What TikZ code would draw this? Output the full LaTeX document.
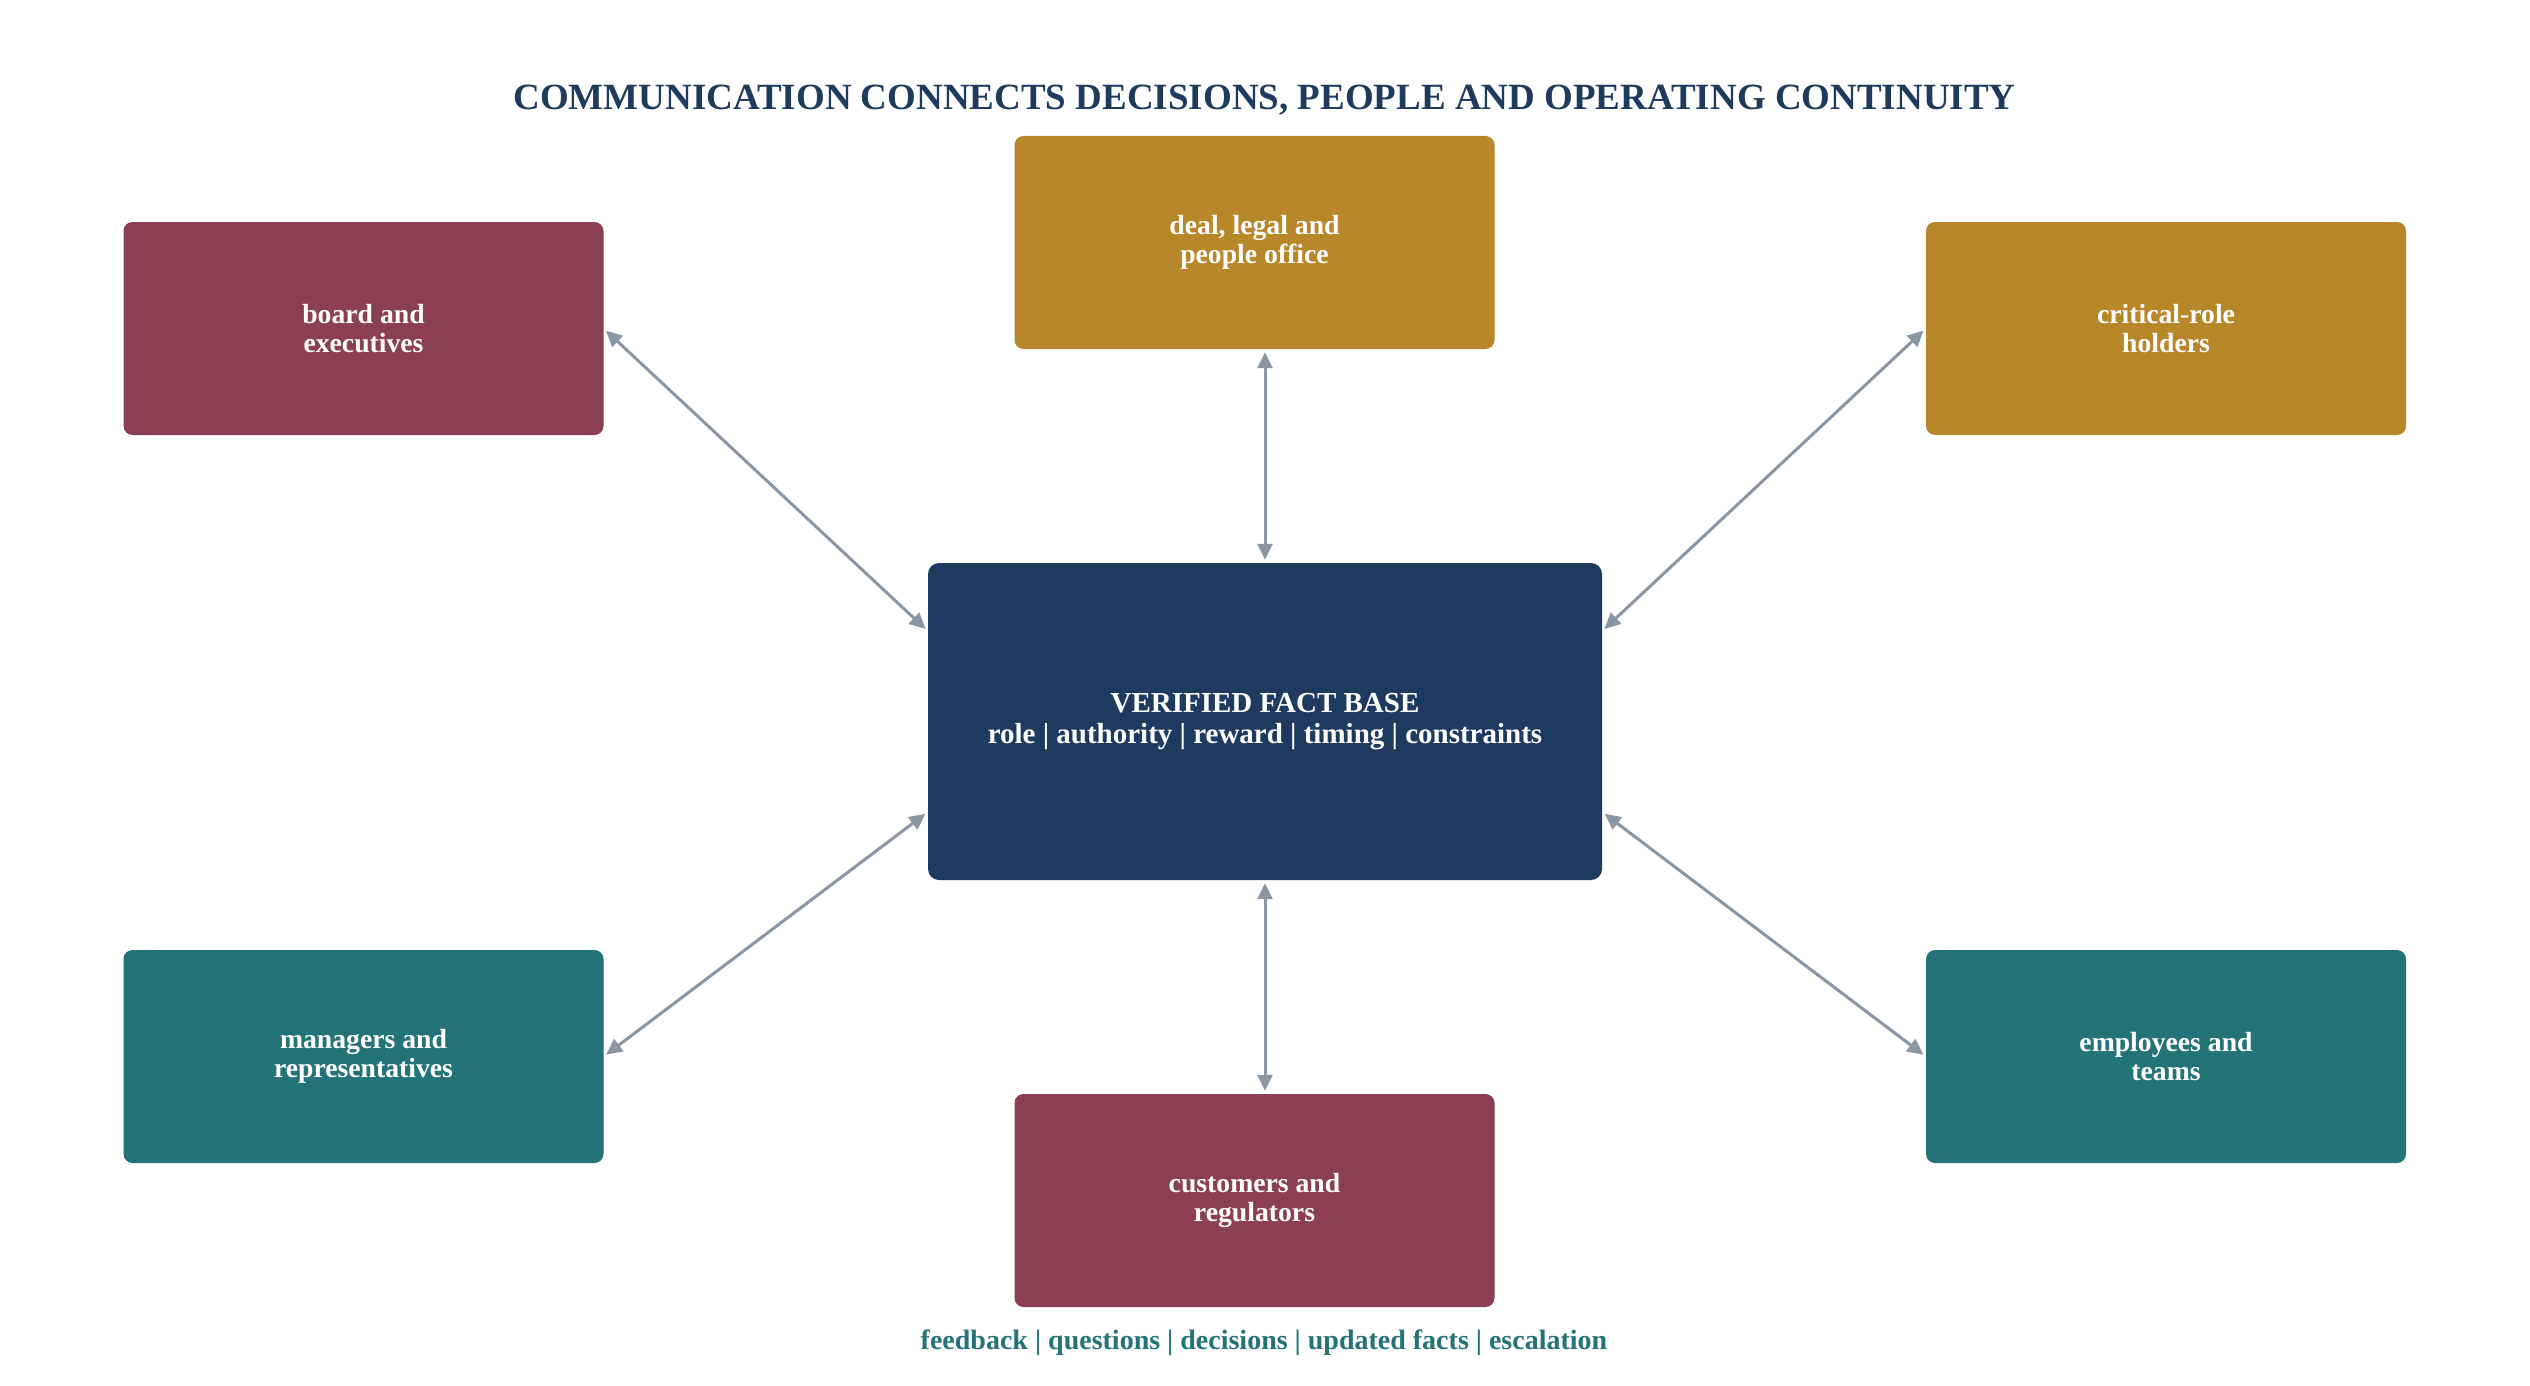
\documentclass[tikz,border=0pt]{standalone}
\usepackage{fontspec}
\setmainfont{Liberation Serif}
\usetikzlibrary{arrows.meta,calc}
\definecolor{navy}{HTML}{1F3A5F}
\definecolor{maroon}{HTML}{8B3F52}
\definecolor{gold}{HTML}{B8872A}
\definecolor{teal}{HTML}{237378}
\definecolor{arrowgray}{HTML}{8A96A3}
\begin{document}
\begin{tikzpicture}[x=1pt,y=-1pt,
  box/.style={rectangle,rounded corners=9pt,minimum width=480pt,minimum height=213pt,inner sep=0pt,
    text=white,align=center,font=\fontsize{27.7}{29}\selectfont\bfseries},
  hub/.style={rectangle,rounded corners=11pt,minimum width=674pt,minimum height=317pt,inner sep=0pt,
    fill=navy,text=white,align=center,font=\fontsize{29}{30.5}\selectfont\bfseries},
  link/.style={draw=arrowgray,line width=3pt,{Triangle[length=16pt,width=15pt]}-{Triangle[length=16pt,width=15pt]},
    shorten <=3pt,shorten >=3pt}
]
\useasboundingbox[fill=white] (0,0) rectangle (2530,1386);
\node[text=navy,font=\fontsize{37}{42}\selectfont\bfseries] (title) at (1264.5,100) {COMMUNICATION CONNECTS DECISIONS, PEOPLE AND OPERATING CONTINUITY};
\node[box,fill=maroon] (board) at (363.5,328.5) {board and\\executives};
\node[box,fill=gold] (deal) at (1254.5,242.5) {deal, legal and\\people office};
\node[box,fill=gold] (crit) at (2166,328.5) {critical-role\\holders};
\node[box,fill=teal] (mgr) at (363.5,1056.5) {managers and\\representatives};
\node[box,fill=maroon] (cust) at (1254.5,1200.5) {customers and\\regulators};
\node[box,fill=teal] (emp) at (2166,1056.5) {employees and\\teams};
\node[hub] (c) at (1265,721.5) {VERIFIED FACT BASE\\role | authority | reward | timing | constraints};
\node[text=teal,font=\fontsize{28}{30}\selectfont\bfseries] (foot) at (1264,1343) {feedback | questions | decisions | updated facts | escalation};
\coordinate (cwt) at ($(c.north west)!0.215!(c.south west)$);
\coordinate (cwb) at ($(c.north west)!0.785!(c.south west)$);
\coordinate (cet) at ($(c.north east)!0.215!(c.south east)$);
\coordinate (ceb) at ($(c.north east)!0.785!(c.south east)$);
\draw[link] (board.east) -- (cwt);
\draw[link] (crit.west) -- (cet);
\draw[link] (mgr.east) -- (cwb);
\draw[link] (emp.west) -- (ceb);
\draw[link] (c.north |- deal.south) -- (c.north);
\draw[link] (c.south) -- (c.south |- cust.north);
\end{tikzpicture}
\end{document}
